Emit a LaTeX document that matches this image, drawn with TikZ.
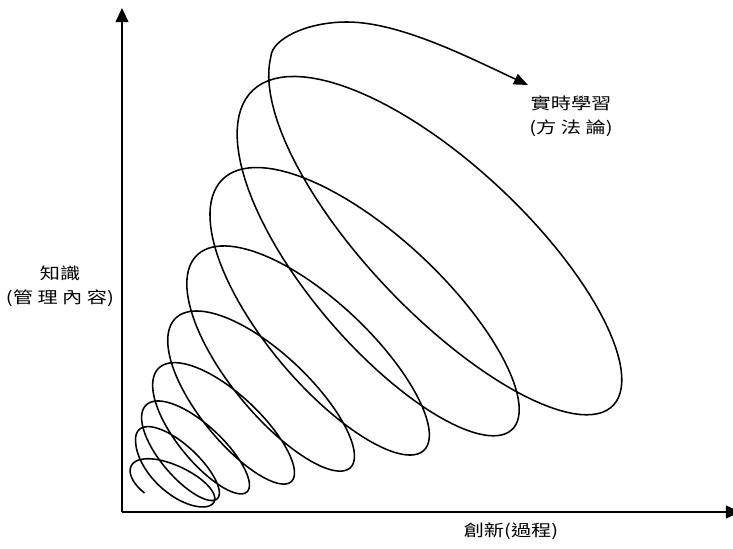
\documentclass[tikz,border=0pt]{standalone}
\usepackage{fontspec}
\newfontfamily\cjk{Noto Sans CJK TC}
\usetikzlibrary{arrows.meta}

\begin{document}
\begin{tikzpicture}[x=0.25mm, y=0.25mm,
	every node/.style={font=\cjk\fontsize{11.5pt}{17pt}\selectfont, xscale=1.25, align=center, inner sep=0pt},
	axis/.style={line width=1.5pt, -{Triangle[length=10pt, width=9pt]}},
	spiral/.style={line width=1.1pt, line join=round, -{Triangle[length=10pt, width=8pt]}},
	declare function={
		sp(\t) = (\t - 45.84*cos(\t))/360 - 0.75;
		ra(\t) = 46 + 3*sp(\t) + 3.5*sp(\t)*sp(\t) - 20*pow(max(sp(\t)-6.8,0),2);
		th(\t) = 42.5 - 22*max(0.8-sp(\t),0);
		cx(\t) = 105.4 + 1.356*ra(\t) + 5*max(1-sp(\t),0) + 15*max(sp(\t)-7,0);
		cy(\t) = 23 + 1.18*ra(\t) - 12*max(1-sp(\t),0);
	}]
	\useasboundingbox (0,0) rectangle (733,548);
	
	% 坐標軸
	\coordinate (orig) at (122,36);
	\coordinate (ytip) at (122,540);
	\coordinate (xtip) at (740,36);
	\draw[axis] (orig) -- (ytip);
	\draw[axis] (orig) -- (xtip);
	
	% 螺旋 (橢圓圈逐步放大)
	\draw[spiral, domain=125:3048, samples=900, variable=\t]
	plot ({cx(\t) + ra(\t)*(cos(th(\t))*cos(\t) - 0.38*sin(th(\t))*sin(\t))},
	      {cy(\t) - ra(\t)*(sin(th(\t))*cos(\t) + 0.38*cos(th(\t))*sin(\t))})
	.. controls (272,508) and (305,526) .. (347,526)
	.. controls (400,526) and (470,490) .. (528,463);
	
	% 標註
	\node (lrn) at (571,432) {實時學習\\(方 法 論)};
	\node (knw) at (60,261.5) {知識\\(管 理 內 容)};
	\node (inn) at (511,17) {創新(過程)};
\end{tikzpicture}
\end{document}
